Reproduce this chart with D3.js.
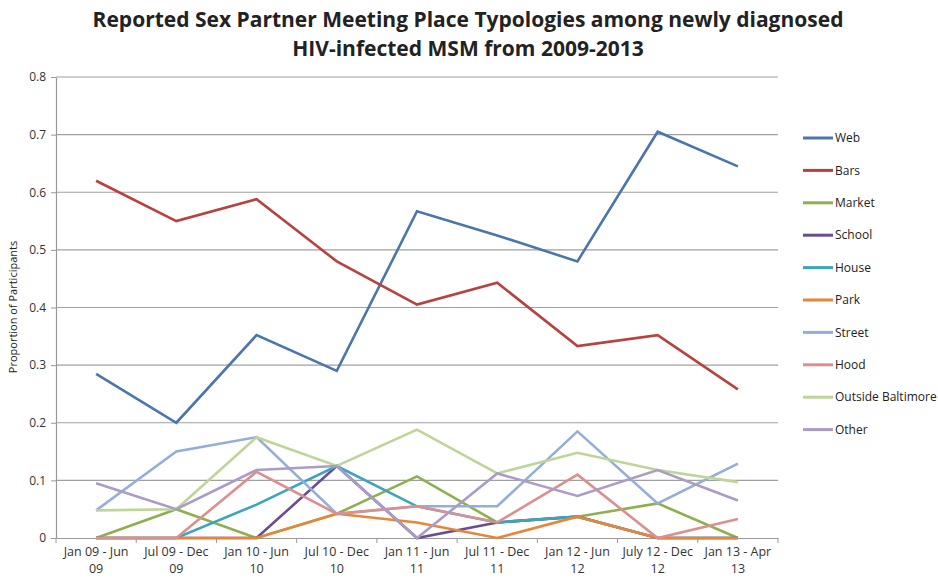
<!DOCTYPE html>
<html>
<head>
<meta charset="utf-8">
<script src="https://cdn.jsdelivr.net/npm/d3@7"></script>
<style>
  body { margin: 0; background: #fff; }
  text { font-family: "Open Sans", "DejaVu Sans", sans-serif; }
</style>
</head>
<body>
<div id="chart"></div>
<script>
const periods = [
  ['Jan 09 - Jun', '09'], ['Jul 09 - Dec', '09'], ['Jan 10 - Jun', '10'],
  ['Jul 10 - Dec', '10'], ['Jan 11 - Jun', '11'], ['Jul 11 - Dec', '11'],
  ['Jan 12 - Jun', '12'], ['July 12 - Dec', '12'], ['Jan 13 - Apr', '13']
];

const seriesNames = ['Web', 'Bars', 'Market', 'School', 'House', 'Park', 'Street', 'Hood', 'Outside Baltimore', 'Other'];
const seriesColors = ['#4a76ad', '#b8423f', '#8db04f', '#6a4c93', '#3ea4be', '#e7853a', '#93aedb', '#dc8f8e', '#bdd597', '#aa9bc7'];

const web      = [0.285, 0.200, 0.352, 0.290, 0.567, 0.525, 0.480, 0.705, 0.645];
const bars     = [0.620, 0.550, 0.588, 0.480, 0.405, 0.443, 0.333, 0.352, 0.258];
const market   = [0.000, 0.050, 0.000, 0.042, 0.107, 0.027, 0.037, 0.060, 0.000];
const school   = [0.000, 0.000, 0.000, 0.125, 0.000, 0.027, 0.037, 0.000, 0.000];
const house    = [0.000, 0.000, 0.058, 0.125, 0.055, 0.027, 0.037, 0.000, 0.000];
const park     = [0.000, 0.000, 0.000, 0.042, 0.027, 0.000, 0.037, 0.000, 0.000];
const street   = [0.048, 0.150, 0.175, 0.042, 0.055, 0.055, 0.185, 0.060, 0.129];
const hood     = [0.000, 0.000, 0.115, 0.042, 0.055, 0.027, 0.110, 0.000, 0.033];
const outside  = [0.048, 0.050, 0.175, 0.125, 0.188, 0.112, 0.148, 0.118, 0.097];
const other    = [0.095, 0.050, 0.118, 0.125, 0.000, 0.112, 0.073, 0.118, 0.065];

const yTicks = [0, 0.1, 0.2, 0.3, 0.4, 0.5, 0.6, 0.7, 0.8];

const allSeries = [web, bars, market, school, house, park, street, hood, outside, other];

const width = 938, height = 579;
const margin = {top: 77, right: 160, bottom: 41, left: 56};

const svg = d3.select('#chart').append('svg')
    .attr('width', width)
    .attr('height', height);

const x = d3.scaleBand()
    .domain(d3.range(periods.length))
    .range([margin.left, width - margin.right]);

const y = d3.scaleLinear()
    .domain([0, 0.8])
    .range([height - margin.bottom, margin.top]);

// title
svg.append('text')
    .attr('x', 468).attr('y', 27)
    .attr('text-anchor', 'middle')
    .attr('font-size', 21).attr('font-weight', 'bold').attr('fill', '#222')
    .text('Reported Sex Partner Meeting Place Typologies among newly diagnosed');
svg.append('text')
    .attr('x', 468).attr('y', 56)
    .attr('text-anchor', 'middle')
    .attr('font-size', 21).attr('font-weight', 'bold').attr('fill', '#222')
    .text('HIV-infected MSM from 2009-2013');

// gridlines
svg.append('g')
  .selectAll('line')
  .data(yTicks.filter(d => d > 0))
  .join('line')
    .attr('x1', margin.left).attr('x2', width - margin.right)
    .attr('y1', d => y(d)).attr('y2', d => y(d))
    .attr('stroke', '#a0a0a0').attr('stroke-width', 1.2);

// y axis
const yAxis = svg.append('g')
    .attr('transform', `translate(${margin.left},0)`)
    .call(d3.axisLeft(y).tickValues(yTicks).tickSize(5).tickSizeOuter(0));
yAxis.selectAll('text').attr('font-size', 12).attr('fill', '#333').attr('dx', '-2')
    .text(d => d === 0 ? '0' : d3.format('.1f')(d));
yAxis.select('.domain').attr('stroke', '#999').attr('stroke-width', 1.2);
yAxis.selectAll('.tick line').attr('stroke', '#999');

// x axis
const xAxis = svg.append('g')
    .attr('transform', `translate(0,${y(0)})`)
    .call(d3.axisBottom(x).tickSize(0).tickFormat(''));
xAxis.select('.domain').attr('stroke', '#999').attr('stroke-width', 1.2);

svg.append('g')
  .selectAll('line')
  .data(d3.range(periods.length + 1))
  .join('line')
    .attr('x1', i => margin.left + i * x.step())
    .attr('x2', i => margin.left + i * x.step())
    .attr('y1', y(0)).attr('y2', y(0) + 5)
    .attr('stroke', '#999');

const xLabels = svg.append('g')
  .selectAll('text')
  .data(periods)
  .join('text')
    .attr('x', (d, i) => x(i) + x.bandwidth() / 2)
    .attr('y', y(0) + 18)
    .attr('text-anchor', 'middle')
    .attr('font-size', 12.5).attr('fill', '#333');
xLabels.append('tspan').text(d => d[0]);
xLabels.append('tspan')
    .attr('x', (d, i) => x(i) + x.bandwidth() / 2)
    .attr('dy', 16.5)
    .text(d => d[1]);

// y axis title
svg.append('text')
    .attr('transform', 'translate(17,307) rotate(-90)')
    .attr('text-anchor', 'middle')
    .attr('font-size', 11).attr('fill', '#222')
    .text('Proportion of Participants');

// lines
const line = d3.line()
    .x((d, i) => x(i) + x.bandwidth() / 2)
    .y(d => y(d));

svg.append('g')
  .selectAll('path')
  .data(allSeries)
  .join('path')
    .attr('d', line)
    .attr('fill', 'none')
    .attr('stroke', (d, i) => seriesColors[i])
    .attr('stroke-width', 2.6)
    .attr('stroke-linejoin', 'miter');

// legend
const legend = svg.append('g')
    .attr('transform', 'translate(803,138)');
const item = legend.selectAll('g')
  .data(seriesNames)
  .join('g')
    .attr('transform', (d, i) => `translate(0,${i * 32.4})`);
item.append('line')
    .attr('x1', 0).attr('x2', 30)
    .attr('stroke', (d, i) => seriesColors[i])
    .attr('stroke-width', 3);
item.append('text')
    .attr('x', 32).attr('dy', '0.35em')
    .attr('font-size', 12).attr('fill', '#222')
    .text(d => d);
</script>
</body>
</html>
